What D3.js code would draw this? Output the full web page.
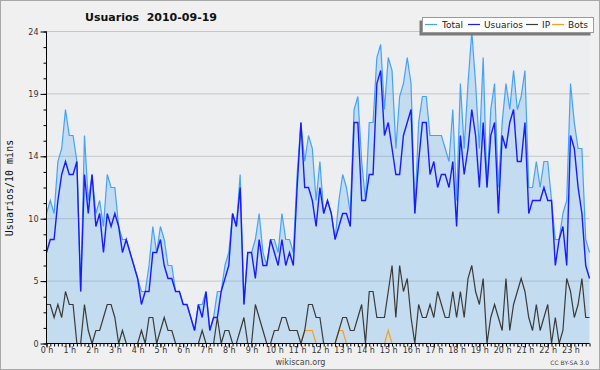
<!DOCTYPE html>
<html><head><meta charset="utf-8">
<script src="https://cdn.jsdelivr.net/npm/d3@7"></script>
<style>html,body{margin:0;padding:0;background:#f0f0f0}svg{display:block}</style>
</head><body>
<svg id="c" width="600" height="370"></svg>
<script>
// 10-minute samples, 0:00 .. 23:50
const total=[10,11,10,14,15,18,16,16,14,4, 16,11,13,10,11,9,13,12,12,9, 8,8,7,6,5,4,4,6,9,7, 9,8,6,6,4,4,3,3,2,1, 3,3,4,1,2,4,4,6,7,10, 9,13,3,7,7,8,10,7,6,8, 8,7,10,8,8,7,13,17,14,16, 15,11,14,10,11,10,8,11,13,12, 10,18,19,14,11,17,17,22,23,18, 22,21,15,19,20,22,20,10,17,19, 19,16,16,16,16,15,14,18,11,20, 15,20,24,20,15,22,12,18,20,12, 17,20,18,21,18,19,21,12,12,14, 12,14,14,11,8,8,10,11,20,17, 15,15,8,7];
const usuarios=[7,8,8,11,13,14,13,13,14,4, 13,10,13,9,10,7,10,9,10,9, 7,8,7,6,5,3,4,4,7,7, 8,6,5,5,4,4,3,3,2,1, 3,2,4,1,2,2,4,5,6,10, 9,12,3,7,7,5,8,6,6,8, 7,6,8,6,7,6,12,17,12,12, 11,9,12,10,11,10,8,9,10,10, 9,17,17,11,11,13,13,20,21,16, 17,15,13,13,16,17,18,10,14,17, 17,13,14,12,13,13,12,14,9,16, 13,15,18,16,12,17,12,16,17,10, 16,15,17,18,14,14,17,10,11,11, 11,12,11,11,6,8,9,6,16,15, 12,10,6,5];
const ip=[3,3,2,3,2,4,3,3,0,0, 3,1,0,1,1,2,3,3,2,0, 1,0,0,0,0,1,0,2,2,0, 1,2,1,1,0,0,0,0,0,0, 0,1,0,0,0,2,0,1,1,0, 0,1,2,0,0,3,2,1,0,0, 1,1,2,2,1,1,1,0,1,3, 3,2,2,0,0,0,0,1,2,2, 1,1,2,3,0,4,4,2,2,2, 4,6,2,6,4,5,2,0,3,2, 2,3,2,4,3,2,2,4,2,4, 2,5,6,4,3,5,0,2,3,2, 1,5,1,3,4,5,4,2,1,3, 1,2,3,0,2,0,1,5,4,2, 3,5,2,2];
const bots=[0,0,0,0,0,0,0,0,0,0, 0,0,0,0,0,0,0,0,0,0, 0,0,0,0,0,0,0,0,0,0, 0,0,0,0,0,0,0,0,0,0, 0,0,0,0,0,0,0,0,0,0, 0,0,0,0,0,0,0,0,0,0, 0,0,0,0,0,0,0,0,1,1, 1,0,0,0,0,0,0,1,1,0, 0,0,0,0,0,0,0,0,0,0, 1,0,0,0,0,0,0,0,0,0, 0,0,0,0,0,0,0,0,0,0, 0,0,0,0,0,0,0,0,0,0, 0,0,0,0,0,0,0,0,0,0, 0,0,0,0,0,0,0,0,0,0, 0,0,0,0];
const hourLabels=d3.range(24).map(h=>h+" h");
const yTickValues=[0,4.8,9.6,14.4,19.2,24];
const seriesNames=["Total","Usuarios","IP","Bots"];
const titleText="Usuarios  2010-09-19";
const yTitle="Usuarios/10 mins";

const W=600,H=370;
const svg=d3.select("#c");
const x=d3.scaleLinear().domain([0,total.length-1]).range([46.5,589.5]);
const y=d3.scaleLinear().domain([0,24]).range([343.5,31.5]);
const colors=["#45a2f8","#1a1aff","#3a3a3a","#ff9c1a"];
const series=[total,usuarios,ip,bots];

svg.append("rect").attr("width",W).attr("height",H).attr("fill","#f0f0f0");
svg.append("rect").attr("x",0.5).attr("y",0.5).attr("width",W-1).attr("height",H-1)
  .attr("fill","none").attr("stroke","#a8a8a8");
svg.append("rect").attr("x",x(0)).attr("y",y(24)).attr("width",x(143)-x(0)).attr("height",y(0)-y(24))
  .attr("fill","#eceef0");

// grid
svg.append("g").selectAll("line").data(yTickValues.slice(1)).join("line")
  .attr("x1",x(0)).attr("x2",x(143)).attr("y1",d=>y(d)).attr("y2",d=>y(d))
  .attr("stroke","#c6c6c6").attr("stroke-width",1);

// area under total
svg.append("path").datum(total)
  .attr("d",d3.area().x((d,i)=>x(i)).y0(y(0)).y1(d=>y(d)))
  .attr("fill","rgba(71,168,237,0.25)");

// lines
const line=d3.line().x((d,i)=>x(i)).y(d=>y(d));
[3,2,0,1].forEach(k=>{
  svg.append("path").datum(series[k]).attr("d",line)
    .attr("fill","none").attr("stroke",colors[k])
    .attr("stroke-width",k===1?1.4:1.2).attr("stroke-linejoin","miter");
});

// axes
const font="DejaVu Sans, sans-serif";
const yMinor=svg.append("g").attr("transform",`translate(${x(0)},0)`)
  .call(d3.axisLeft(y).tickValues(d3.range(0,24.001,1.2)).tickSize(3).tickFormat(""));
yMinor.select(".domain").remove();
const yAx=svg.append("g").attr("transform",`translate(${x(0)},0)`)
  .call(d3.axisLeft(y).tickValues(yTickValues).tickSize(6).tickPadding(2).tickFormat(d=>Math.round(d)));
yAx.select(".domain").remove();
yAx.selectAll("text").attr("font-family",font).attr("font-size",8).attr("fill","#333");

const xMinor=svg.append("g").attr("transform",`translate(0,${y(0)})`)
  .call(d3.axisBottom(x).tickValues(d3.range(0,144)).tickSize(3).tickFormat(""));
xMinor.select(".domain").remove();
const xAx=svg.append("g").attr("transform",`translate(0,${y(0)})`)
  .call(d3.axisBottom(x).tickValues(d3.range(0,144,6)).tickSize(4).tickPadding(0).tickFormat((d,i)=>hourLabels[i]));
xAx.select(".domain").remove();
xAx.selectAll("text").attr("font-family",font).attr("font-size",8).attr("fill","#333");
svg.selectAll(".tick line").attr("stroke","#000");

svg.append("line").attr("x1",x(0)).attr("x2",x(0)).attr("y1",y(24)).attr("y2",y(0)+0.5).attr("stroke","#000");
svg.append("line").attr("x1",x(0)).attr("x2",x(143)).attr("y1",y(0)).attr("y2",y(0)).attr("stroke","#000");

// title & texts
svg.append("text").attr("x",151).attr("y",20.5).attr("text-anchor","middle")
  .attr("font-family",font).attr("font-weight","bold").attr("font-size",11).attr("fill","#111")
  .attr("xml:space","preserve").style("white-space","pre").text(titleText);
svg.append("text").attr("transform","translate(9,188) rotate(-90)").attr("text-anchor","middle")
  .attr("dy","0.35em").attr("font-family","DejaVu Sans Mono, monospace").attr("font-size",10).attr("fill","#111")
  .text(yTitle);
svg.append("text").attr("x",300.5).attr("y",364.5).attr("text-anchor","middle")
  .attr("font-family",font).attr("font-size",8).attr("fill","#444").text("wikiscan.org");
svg.append("text").attr("x",589).attr("y",365).attr("text-anchor","end")
  .attr("font-family",font).attr("font-size",6).attr("fill","#444").text("CC BY-SA 3.0");

// legend
const lg=svg.append("g");
lg.append("rect").attr("x",419.5).attr("y",20.5).attr("width",171).attr("height",15).attr("fill","#7a7a7a");
lg.append("rect").attr("x",422.5).attr("y",17.5).attr("width",171).attr("height",15)
  .attr("fill","#fff").attr("stroke","#9a9a9a");
const lineX=[425,468,526,552], textX=[442,484,542,568];
seriesNames.forEach((n,k)=>{
  lg.append("line").attr("x1",lineX[k]).attr("x2",lineX[k]+12).attr("y1",24.5).attr("y2",24.5)
    .attr("stroke",colors[k]).attr("stroke-width",1.2);
  lg.append("text").attr("x",textX[k]).attr("y",24.5).attr("dy","0.35em")
    .attr("font-family",font).attr("font-size",9).attr("fill","#222").text(n);
});
</script>
</body></html>
